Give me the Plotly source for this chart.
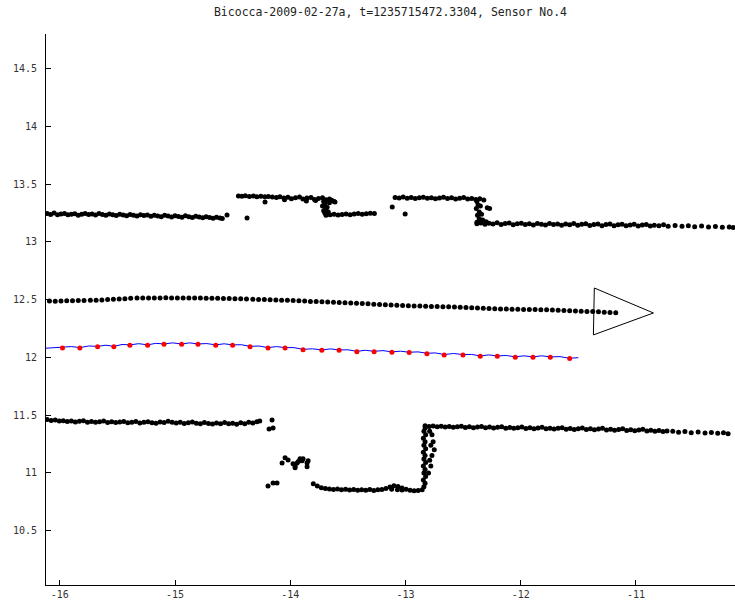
import plotly.graph_objects as go

TITLE = "Bicocca-2009-02-27a, t=1235715472.3304, Sensor No.4"

x_ticks = [-16, -15, -14, -13, -12, -11]
x_tick_text = ["-16", "-15", "-14", "-13", "-12", "-11"]
y_ticks = [10.5, 11, 11.5, 12, 12.5, 13, 13.5, 14, 14.5]
y_tick_text = ["10.5", "11", "11.5", "12", "12.5", "13", "13.5", "14", "14.5"]

# ---- laser returns: upper wall ----
wall_up_a_x = [-16.11, -16.08, -16.05, -16.02, -15.99, -15.96, -15.93, -15.90, -15.87, -15.84,
               -15.81, -15.78, -15.75, -15.72, -15.69, -15.66, -15.63, -15.60, -15.57, -15.54,
               -15.51, -15.48, -15.45, -15.42, -15.39, -15.36, -15.33, -15.30, -15.27, -15.24,
               -15.21, -15.18, -15.15, -15.12, -15.09, -15.06, -15.03, -15.00, -14.97, -14.94,
               -14.91, -14.88, -14.85, -14.82, -14.79, -14.76, -14.73, -14.70, -14.67, -14.64,
               -14.61, -14.59]
wall_up_a_y = [13.245, 13.238, 13.250, 13.236, 13.242, 13.247, 13.235, 13.240, 13.244, 13.231,
               13.239, 13.246, 13.237, 13.241, 13.233, 13.245, 13.238, 13.230, 13.242, 13.236,
               13.229, 13.240, 13.234, 13.226, 13.238, 13.231, 13.224, 13.236, 13.228, 13.233,
               13.222, 13.230, 13.225, 13.219, 13.231, 13.224, 13.216, 13.227, 13.221, 13.214,
               13.226, 13.218, 13.212, 13.222, 13.215, 13.209, 13.219, 13.211, 13.205, 13.214,
               13.208, 13.203]

wall_up_b_x = [-14.45, -14.42, -14.39, -14.355, -14.32, -14.29, -14.255, -14.22, -14.19, -14.155,
               -14.12, -14.09, -14.055, -14.02, -13.99, -13.955, -13.92, -13.89, -13.855, -13.82,
               -13.79, -13.755, -13.72, -13.69, -13.66]
wall_up_b_y = [13.398, 13.395, 13.399, 13.394, 13.397, 13.392, 13.396, 13.390, 13.393, 13.388,
               13.385, 13.391, 13.380, 13.386, 13.374, 13.383, 13.388, 13.372, 13.380, 13.385,
               13.368, 13.376, 13.382, 13.366, 13.372]

wall_up_c_x = [-13.69, -13.655, -13.62, -13.585, -13.55, -13.515, -13.48, -13.445, -13.41, -13.375,
               -13.34, -13.305, -13.27]
wall_up_c_y = [13.232, 13.236, 13.240, 13.233, 13.238, 13.242, 13.236, 13.241, 13.245, 13.239,
               13.244, 13.248, 13.246]

wall_up_d_x = [-13.09, -13.055, -13.02, -12.985, -12.95, -12.915, -12.88, -12.845, -12.81, -12.775,
               -12.74, -12.705, -12.67, -12.635, -12.60, -12.565, -12.53, -12.495, -12.46, -12.425,
               -12.39, -12.355, -12.32]
wall_up_d_y = [13.385, 13.381, 13.388, 13.379, 13.384, 13.376, 13.382, 13.387, 13.378, 13.383,
               13.374, 13.380, 13.386, 13.377, 13.382, 13.372, 13.379, 13.384, 13.371, 13.377,
               13.368, 13.374, 13.362]

wall_up_e_x = [-12.38, -12.345, -12.31, -12.275, -12.24, -12.205, -12.17, -12.135, -12.10, -12.065,
               -12.03, -11.995, -11.96, -11.925, -11.89, -11.855, -11.82, -11.785, -11.75, -11.715,
               -11.68, -11.645, -11.61, -11.575, -11.54, -11.505, -11.47, -11.435, -11.40, -11.365,
               -11.33, -11.295, -11.26, -11.225, -11.19, -11.155, -11.12, -11.085, -11.05, -11.015,
               -10.98, -10.945, -10.91, -10.875, -10.84, -10.80, -10.76, -10.72,
               -10.66, -10.60, -10.545, -10.49, -10.43, -10.37, -10.31, -10.25, -10.19, -10.155]
wall_up_e_y = [13.158, 13.164, 13.152, 13.161, 13.155, 13.166, 13.150, 13.159, 13.163, 13.148,
               13.157, 13.162, 13.151, 13.158, 13.146, 13.160, 13.153, 13.147, 13.159, 13.150,
               13.156, 13.144, 13.155, 13.149, 13.160, 13.145, 13.152, 13.158, 13.143, 13.151,
               13.156, 13.141, 13.150, 13.155, 13.140, 13.148, 13.154, 13.139, 13.147, 13.152,
               13.138, 13.146, 13.151, 13.137, 13.145, 13.140, 13.148, 13.136,
               13.142, 13.135, 13.140, 13.132, 13.137, 13.129, 13.133, 13.126, 13.130, 13.124]

# steps and stray returns around the upper wall
wall_up_extra_x = [-14.549, -14.375, -14.219, -14.05, -13.86, -13.78,
                   -13.71, -13.70, -13.72, -13.69, -13.71, -13.68, -13.67, -13.70, -13.66, -13.64,
                   -13.62, -13.612, -13.115, -13.003,
                   -12.38, -12.37, -12.385, -12.36, -12.375, -12.36, -12.38, -12.35, -12.34,
                   -12.29, -12.27, -12.33, -12.30]
wall_up_extra_y = [13.233, 13.207, 13.345, 13.365, 13.355, 13.358,
                   13.350, 13.330, 13.310, 13.290, 13.270, 13.300, 13.260, 13.250, 13.340, 13.360,
                   13.350, 13.345, 13.302, 13.241,
                   13.350, 13.320, 13.290, 13.260, 13.230, 13.200, 13.170, 13.310, 13.240,
                   13.295, 13.290, 13.190, 13.175]

# ---- laser returns: lower wall ----
wall_lo_a_x = [-16.11, -16.075, -16.04, -16.005, -15.97, -15.935, -15.90, -15.865, -15.83, -15.795,
               -15.76, -15.725, -15.69, -15.655, -15.62, -15.585, -15.55, -15.515, -15.48, -15.445,
               -15.41, -15.375, -15.34, -15.305, -15.27, -15.235, -15.20, -15.165, -15.13, -15.095,
               -15.06, -15.025, -14.99, -14.955, -14.92, -14.885, -14.85, -14.815, -14.78, -14.745,
               -14.71, -14.675, -14.64, -14.605, -14.57, -14.535, -14.50, -14.465, -14.43, -14.395,
               -14.36, -14.325, -14.29, -14.265]
wall_lo_a_y = [11.462, 11.455, 11.458, 11.449, 11.452, 11.445, 11.450, 11.441, 11.447, 11.452,
               11.440, 11.446, 11.438, 11.444, 11.449, 11.437, 11.443, 11.436, 11.441, 11.446,
               11.434, 11.440, 11.445, 11.433, 11.439, 11.444, 11.435, 11.430, 11.441, 11.436,
               11.447, 11.438, 11.432, 11.440, 11.428, 11.435, 11.441, 11.430, 11.426, 11.436,
               11.429, 11.424, 11.433, 11.427, 11.437, 11.425, 11.431, 11.422, 11.434, 11.427,
               11.438, 11.432, 11.443, 11.450]

wall_lo_b_x = [-13.80, -13.765, -13.73, -13.695, -13.66, -13.625, -13.59, -13.555, -13.52, -13.485,
               -13.45, -13.415, -13.38, -13.345, -13.31, -13.275, -13.24, -13.205, -13.17, -13.135,
               -13.10, -13.065, -13.03, -12.995, -12.96, -12.925, -12.89, -12.855]
wall_lo_b_y = [10.906, 10.888, 10.872, 10.866, 10.860, 10.856, 10.862, 10.855, 10.858, 10.852,
               10.857, 10.851, 10.855, 10.850, 10.856, 10.849, 10.854, 10.857, 10.866, 10.878,
               10.890, 10.882, 10.870, 10.858, 10.851, 10.846, 10.849, 10.855]

wall_lo_c_x = [-12.83, -12.795, -12.76, -12.725, -12.69, -12.655, -12.62, -12.585, -12.55, -12.515,
               -12.48, -12.445, -12.41, -12.375, -12.34, -12.305, -12.27, -12.235, -12.20, -12.165,
               -12.13, -12.095, -12.06, -12.025, -11.99, -11.955, -11.92, -11.885, -11.85, -11.815,
               -11.78, -11.745, -11.71, -11.675, -11.64, -11.605, -11.57, -11.535, -11.50, -11.465,
               -11.43, -11.395, -11.36, -11.325, -11.29, -11.255, -11.22, -11.185, -11.15, -11.115,
               -11.08, -11.045, -11.01, -10.975, -10.94, -10.905, -10.87, -10.835, -10.80, -10.765,
               -10.73,
               -10.68, -10.63, -10.575, -10.52, -10.46, -10.40, -10.345, -10.29, -10.24, -10.20]
wall_lo_c_y = [11.408, 11.402, 11.406, 11.399, 11.404, 11.397, 11.402, 11.395, 11.400, 11.405,
               11.394, 11.399, 11.392, 11.398, 11.403, 11.391, 11.397, 11.389, 11.395, 11.401,
               11.388, 11.394, 11.386, 11.392, 11.398, 11.385, 11.391, 11.383, 11.389, 11.395,
               11.382, 11.388, 11.380, 11.386, 11.392, 11.379, 11.385, 11.377, 11.383, 11.389,
               11.376, 11.382, 11.374, 11.380, 11.386, 11.372, 11.378, 11.370, 11.376, 11.382,
               11.368, 11.374, 11.366, 11.372, 11.378, 11.364, 11.370, 11.362, 11.368, 11.358,
               11.364,
               11.360, 11.352, 11.358, 11.349, 11.355, 11.346, 11.351, 11.343, 11.349, 11.340]

# stray returns, the recess cluster and the step at x = -12.83
wall_lo_extra_x = [-14.158, -14.184, -14.149,
                   -14.071, -14.045, -14.019, -13.976, -13.958, -13.941, -13.915, -13.897, -13.889,
                   -13.854, -13.854, -13.958, -13.845, -13.930,
                   -14.193, -14.149, -14.115,
                   -13.12, -13.07, -13.03,
                   -12.84, -12.83, -12.845, -12.825, -12.84, -12.83, -12.845, -12.825, -12.84,
                   -12.83, -12.845, -12.825, -12.84, -12.83, -12.845, -12.825, -12.84, -12.83,
                   -12.79, -12.77, -12.76, -12.78, -12.75, -12.77, -12.79, -12.78, -12.80]
wall_lo_extra_y = [11.459, 11.381, 11.390,
                   11.087, 11.131, 11.113, 11.079, 11.044, 11.087, 11.122, 11.105, 11.122,
                   11.087, 11.053, 11.061, 11.105, 11.100,
                   10.888, 10.914, 10.914,
                   10.858, 10.855, 10.852,
                   10.880, 10.910, 10.940, 10.970, 11.000, 11.030, 11.060, 11.090, 11.120,
                   11.150, 11.180, 11.210, 11.240, 11.270, 11.300, 11.330, 11.360, 11.390,
                   11.360, 11.330, 11.270, 11.240, 11.200, 11.150, 11.110, 11.060, 11.000]

# ---- odometry path (black dots) ----
odom_x = [-16.09, -16.04, -15.99, -15.94, -15.89, -15.84, -15.79, -15.735, -15.685, -15.635,
          -15.585, -15.535, -15.485, -15.435, -15.385, -15.33, -15.28, -15.23, -15.18, -15.13,
          -15.08, -15.03, -14.98, -14.93, -14.88, -14.83, -14.78, -14.73, -14.68, -14.63,
          -14.58, -14.53, -14.48, -14.43, -14.38, -14.325, -14.275, -14.225, -14.175, -14.125,
          -14.075, -14.025, -13.975, -13.925, -13.875, -13.825, -13.775, -13.725, -13.675, -13.625,
          -13.575, -13.525, -13.475, -13.425, -13.375, -13.325, -13.275, -13.225, -13.175, -13.125,
          -13.075, -13.025, -12.975, -12.925, -12.875, -12.825, -12.775, -12.725, -12.675, -12.625,
          -12.575, -12.525, -12.475, -12.425, -12.375, -12.325, -12.275, -12.225, -12.175, -12.125,
          -12.075, -12.025, -11.975, -11.925, -11.875, -11.825, -11.775, -11.725, -11.675, -11.625,
          -11.575, -11.525, -11.475, -11.425, -11.375, -11.325, -11.275, -11.225, -11.175]
odom_y = [12.488, 12.487, 12.489, 12.491, 12.491, 12.493, 12.493, 12.494, 12.496, 12.498,
          12.501, 12.504, 12.506, 12.509, 12.512, 12.514, 12.515, 12.515, 12.514, 12.515,
          12.516, 12.515, 12.514, 12.515, 12.515, 12.514, 12.514, 12.513, 12.513, 12.512,
          12.511, 12.510, 12.509, 12.508, 12.506, 12.504, 12.502, 12.501, 12.499, 12.497,
          12.496, 12.494, 12.492, 12.490, 12.488, 12.485, 12.484, 12.482, 12.480, 12.478,
          12.476, 12.474, 12.471, 12.469, 12.466, 12.464, 12.461, 12.459, 12.456, 12.453,
          12.451, 12.449, 12.448, 12.446, 12.445, 12.443, 12.442, 12.441, 12.439, 12.438,
          12.436, 12.434, 12.432, 12.430, 12.428, 12.426, 12.424, 12.422, 12.420, 12.419,
          12.418, 12.417, 12.416, 12.415, 12.414, 12.413, 12.412, 12.410, 12.408, 12.406,
          12.404, 12.402, 12.400, 12.398, 12.397, 12.395, 12.392, 12.389, 12.386]

# ---- estimated trajectory (blue line) and key poses (red) ----
traj_x = [-16.12, -15.977, -15.90, -15.826, -15.75, -15.672, -15.60, -15.531, -15.46, -15.392,
          -15.315, -15.238, -15.167, -15.096, -15.02, -14.943, -14.872, -14.801, -14.724, -14.647,
          -14.574, -14.500, -14.425, -14.349, -14.271, -14.193, -14.119, -14.045, -13.967, -13.889,
          -13.808, -13.726, -13.651, -13.576, -13.499, -13.422, -13.347, -13.272, -13.195, -13.118,
          -13.043, -12.968, -12.891, -12.814, -12.739, -12.664, -12.583, -12.501, -12.426, -12.351,
          -12.277, -12.203, -12.125, -12.047, -11.970, -11.893, -11.818, -11.743, -11.659, -11.575,
          -11.50]
traj_y = [12.080, 12.085, 12.094, 12.085, 12.099, 12.096, 12.106, 12.096, 12.112, 12.109,
          12.119, 12.109, 12.122, 12.117, 12.126, 12.117, 12.126, 12.117, 12.120, 12.109,
          12.118, 12.109, 12.110, 12.096, 12.099, 12.085, 12.094, 12.085, 12.085, 12.070,
          12.075, 12.065, 12.074, 12.065, 12.066, 12.053, 12.062, 12.053, 12.059, 12.048,
          12.054, 12.045, 12.048, 12.036, 12.039, 12.025, 12.034, 12.025, 12.026, 12.013,
          12.022, 12.013, 12.017, 12.005, 12.014, 12.005, 12.014, 12.005, 12.007, 11.993,
          11.998]

pose_x = [-15.977, -15.826, -15.672, -15.531, -15.392, -15.238, -15.096, -14.943, -14.801, -14.647,
          -14.500, -14.349, -14.193, -14.045, -13.889, -13.726, -13.576, -13.422, -13.272, -13.118,
          -12.968, -12.814, -12.664, -12.501, -12.351, -12.203, -12.047, -11.893, -11.743, -11.575]
pose_y = [12.082, 12.082, 12.093, 12.093, 12.106, 12.106, 12.114, 12.114, 12.114, 12.106,
          12.106, 12.093, 12.082, 12.082, 12.067, 12.062, 12.062, 12.050, 12.050, 12.045,
          12.042, 12.033, 12.022, 12.022, 12.010, 12.010, 12.002, 12.002, 12.002, 11.990]

# ---- robot outline (triangle) ----
robot_x = [-11.361, -10.848, -11.369, -11.361]
robot_y = [12.601, 12.385, 12.195, 12.601]

upper_x = wall_up_a_x + wall_up_b_x + wall_up_c_x + wall_up_d_x + wall_up_e_x + wall_up_extra_x
upper_y = wall_up_a_y + wall_up_b_y + wall_up_c_y + wall_up_d_y + wall_up_e_y + wall_up_extra_y
lower_x = wall_lo_a_x + wall_lo_b_x + wall_lo_c_x + wall_lo_extra_x
lower_y = wall_lo_a_y + wall_lo_b_y + wall_lo_c_y + wall_lo_extra_y

BLACK_DOT = dict(color="black", size=5)

fig = go.Figure()
fig.add_trace(go.Scatter(x=upper_x, y=upper_y, mode="markers", marker=BLACK_DOT))
fig.add_trace(go.Scatter(x=lower_x, y=lower_y, mode="markers", marker=BLACK_DOT))
fig.add_trace(go.Scatter(x=odom_x, y=odom_y, mode="markers", marker=dict(color="black", size=5)))
fig.add_trace(go.Scatter(x=traj_x, y=traj_y, mode="lines",
                         line=dict(color="#0000ff", width=1)))
fig.add_trace(go.Scatter(x=pose_x, y=pose_y, mode="markers",
                         marker=dict(color="#ff0000", size=5)))
fig.add_trace(go.Scatter(x=robot_x, y=robot_y, mode="lines",
                         line=dict(color="black", width=1)))

TICK_FONT = dict(family="DejaVu Sans Mono", size=10, color="#333333")

fig.update_layout(
    width=735, height=603, autosize=False,
    margin=dict(l=46, r=0, t=34, b=18),
    paper_bgcolor="white", plot_bgcolor="white",
    showlegend=False, hovermode=False,
    title=dict(text=TITLE, x=0.5, xref="paper", xanchor="center",
               y=1 - 12 / 603, yref="container", yanchor="middle",
               font=dict(family="DejaVu Sans Mono", size=11.5, color="#222222")),
    xaxis=dict(range=[-16.12, -10.14], tickmode="array", tickvals=x_ticks, ticktext=x_tick_text,
               ticks="inside", ticklen=5, tickcolor="black", showline=True, linecolor="black",
               linewidth=1, showgrid=False, zeroline=False, tickfont=TICK_FONT,
               ticklabelstandoff=0),
    yaxis=dict(range=[10.03, 14.8], tickmode="array", tickvals=y_ticks, ticktext=y_tick_text,
               ticks="inside", ticklen=5, tickcolor="black", showline=True, linecolor="black",
               linewidth=1, showgrid=False, zeroline=False, tickfont=TICK_FONT,
               ticklabelstandoff=6),
)

fig.write_html("out.html", config={"displayModeBar": False})
